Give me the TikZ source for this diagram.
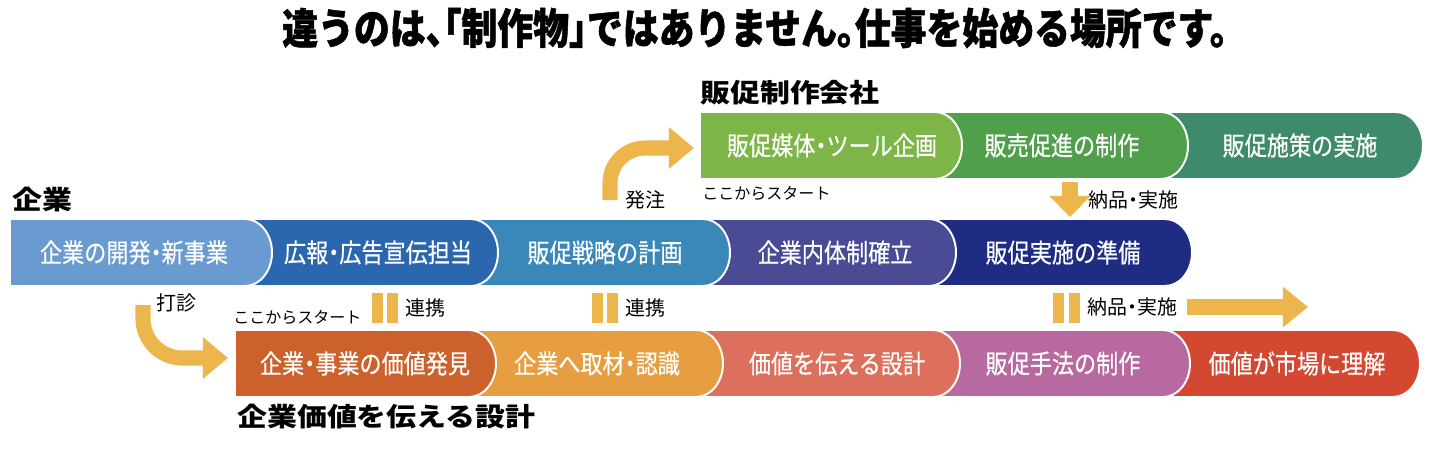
\documentclass[tikz,border=0pt]{standalone}
\usepackage{fontspec}
\newfontfamily\jp{Noto Sans CJK JP}[RawFeature=+halt]
\newfontfamily\jpn{Noto Sans CJK JP}[FakeStretch=0.85, FakeBold=0.4, RawFeature=+halt]
\newfontfamily\jpt{Noto Sans CJK JP}[FakeStretch=0.85, RawFeature=+halt, BoldFeatures={FakeBold=1.2}]
\newfontfamily\jpw{Noto Sans CJK JP}[FakeStretch=1.15]
\usetikzlibrary{positioning,arrows.meta}

\definecolor{segA1}{HTML}{7DB546}
\definecolor{segA2}{HTML}{4F9F4B}
\definecolor{segA3}{HTML}{3E8B6C}
\definecolor{segB1}{HTML}{6A9BD0}
\definecolor{segB2}{HTML}{2A67AE}
\definecolor{segB3}{HTML}{3A88B9}
\definecolor{segB4}{HTML}{4A4A95}
\definecolor{segB5}{HTML}{1F2C84}
\definecolor{segC1}{HTML}{CC612B}
\definecolor{segC2}{HTML}{E69E41}
\definecolor{segC3}{HTML}{DD705C}
\definecolor{segC4}{HTML}{B86AA0}
\definecolor{segC5}{HTML}{D44832}
\definecolor{flowc}{HTML}{EDB64C}

\begin{document}
\begin{tikzpicture}[
  x=0.025cm, y=0.025cm,
  segment/.style={
        draw=white,
        line width=1.4pt
  },
  segtext/.style={
        text=white,
        inner sep=0pt,
        font=\jpn\fontsize{18.5}{19}\selectfont
  },
  heading/.style={
        anchor=west,
        inner sep=0pt,
        font=\jpw\bfseries\fontsize{18.5}{19}\selectfont
  },
  note/.style={
        anchor=west,
        inner sep=0pt,
        font=\jp\fontsize{14.2}{15}\selectfont
  },
  startnote/.style={
        anchor=west,
        inner sep=0pt,
        font=\jp\fontsize{11.4}{12}\selectfont
  },
  flow/.style={
        draw=flowc,
        line width=10.7pt
  },
  linkbar/.style={
        fill=flowc
  }
]

    \useasboundingbox (0,0) rectangle (1440,450);

    % title
    \node[font=\jpt\bfseries\fontsize{30}{30}\selectfont] (title) at (755,422)
      {違うのは、「制作物」ではありません。仕事を始める場所です。};

    % top row: 販促制作会社
    \path[segment, fill=segA3] (1150,338) -- (1396,338)
      arc[start angle=90, end angle=-90, x radius=27, y radius=33.5] -- (1150,271) -- cycle;
    \path[segment, fill=segA2] (925,338) -- (1161,338)
      arc[start angle=90, end angle=-90, x radius=27, y radius=33.5] -- (925,271) -- cycle;
    \path[segment, fill=segA1] (700,338) -- (935,338)
      arc[start angle=90, end angle=-90, x radius=27, y radius=33.5] -- (700,271) -- cycle;

    \node[segtext] (A1) at (832,304.5) {販促媒体・ツール企画};
    \node[segtext] (A2) at (1062,304.5) {販売促進の制作};
    \node[segtext] (A3) at (1300,304.5) {販促施策の実施};

    % middle row: 企業
    \path[segment, fill=segB5] (920,231) -- (1165,231)
      arc[start angle=90, end angle=-90, x radius=27, y radius=33.5] -- (920,164) -- cycle;
    \path[segment, fill=segB4] (690,231) -- (929,231)
      arc[start angle=90, end angle=-90, x radius=27, y radius=33.5] -- (690,164) -- cycle;
    \path[segment, fill=segB3] (460,231) -- (703,231)
      arc[start angle=90, end angle=-90, x radius=27, y radius=33.5] -- (460,164) -- cycle;
    \path[segment, fill=segB2] (240,231) -- (471,231)
      arc[start angle=90, end angle=-90, x radius=27, y radius=33.5] -- (240,164) -- cycle;
    \path[segment, fill=segB1] (10,231) -- (245,231)
      arc[start angle=90, end angle=-90, x radius=27, y radius=33.5] -- (10,164) -- cycle;

    \node[segtext] (B1) at (134,197.5) {企業の開発・新事業};
    \node[segtext] (B2) at (378,197.5) {広報・広告宣伝担当};
    \node[segtext] (B3) at (605,197.5) {販促戦略の計画};
    \node[segtext] (B4) at (835,197.5) {企業内体制確立};
    \node[segtext] (B5) at (1063,197.5) {販促実施の準備};

    % bottom row: 企業価値を伝える設計
    \path[segment, fill=segC5] (1150,120) -- (1393,120)
      arc[start angle=90, end angle=-90, x radius=27, y radius=33.5] -- (1150,53) -- cycle;
    \path[segment, fill=segC4] (920,120) -- (1163,120)
      arc[start angle=90, end angle=-90, x radius=27, y radius=33.5] -- (920,53) -- cycle;
    \path[segment, fill=segC3] (690,120) -- (933,120)
      arc[start angle=90, end angle=-90, x radius=27, y radius=33.5] -- (690,53) -- cycle;
    \path[segment, fill=segC2] (460,120) -- (696,120)
      arc[start angle=90, end angle=-90, x radius=27, y radius=33.5] -- (460,53) -- cycle;
    \path[segment, fill=segC1] (235,120) -- (469,120)
      arc[start angle=90, end angle=-90, x radius=27, y radius=33.5] -- (235,53) -- cycle;

    \node[segtext] (C1) at (365,86.5) {企業・事業の価値発見};
    \node[segtext] (C2) at (597,86.5) {企業へ取材・認識};
    \node[segtext] (C3) at (837,86.5) {価値を伝える設計};
    \node[segtext] (C4) at (1063,86.5) {販促手法の制作};
    \node[segtext] (C5) at (1297,86.5) {価値が市場に理解};

    % row headings
    \node[heading] (kigyo) at (12,250) {企業};
    \node[heading] (seisaku) at (700,357) {販促制作会社};
    \node[heading] (sekkei) at (237,33) {企業価値を伝える設計};

    \node[startnote] (start_top) at (702,256) {ここからスタート};
    \node[startnote] (start_bottom) at (233,133) {ここからスタート};

    % arrows
    \coordinate (order_from) at (610,250);
    \coordinate (order_to) at (694,302);
    \draw[flow, rounded corners=25, -{Triangle[length=17.8pt, width=28.5pt]}]
      (order_from) |- (order_to);
    \node[note] (hatchu) at (625,250) {発注};

    \coordinate (ask_from) at (143,145);
    \coordinate (ask_to) at (228,92);
    \draw[flow, rounded corners=28, -{Triangle[length=17.8pt, width=28.5pt]}]
      (ask_from) |- (ask_to);
    \node[note] (dashin) at (156,147) {打診};

    \coordinate (deliver_from) at (1070,268);
    \coordinate (deliver_to) at (1070,233);
    \draw[flow, -{Triangle[length=15pt, width=28.5pt]}] (deliver_from) -- (deliver_to);
    \node[note] (nohin_top) at (1088,250) {納品・実施};

    \coordinate (market_from) at (1187,143);
    \coordinate (market_to) at (1308,143);
    \draw[flow, line width=11.4pt, -{Triangle[length=17.8pt, width=27.7pt]}]
      (market_from) -- (market_to);

    % link bars
    \fill[linkbar] (372,127) rectangle (383,157);
    \fill[linkbar] (387,127) rectangle (398,157);
    \coordinate (link1) at (398,142);
    \node[note, right=5pt of link1] (renkei1) {連携};

    \fill[linkbar] (592,127) rectangle (603,157);
    \fill[linkbar] (607,127) rectangle (618,157);
    \coordinate (link2) at (618,142);
    \node[note, right=5pt of link2] (renkei2) {連携};

    \fill[linkbar] (1053,127) rectangle (1064,157);
    \fill[linkbar] (1069,127) rectangle (1080,157);
    \coordinate (link3) at (1080,143);
    \node[note, right=5pt of link3] (nohin_bottom) {納品・実施};
\end{tikzpicture}
\end{document}
